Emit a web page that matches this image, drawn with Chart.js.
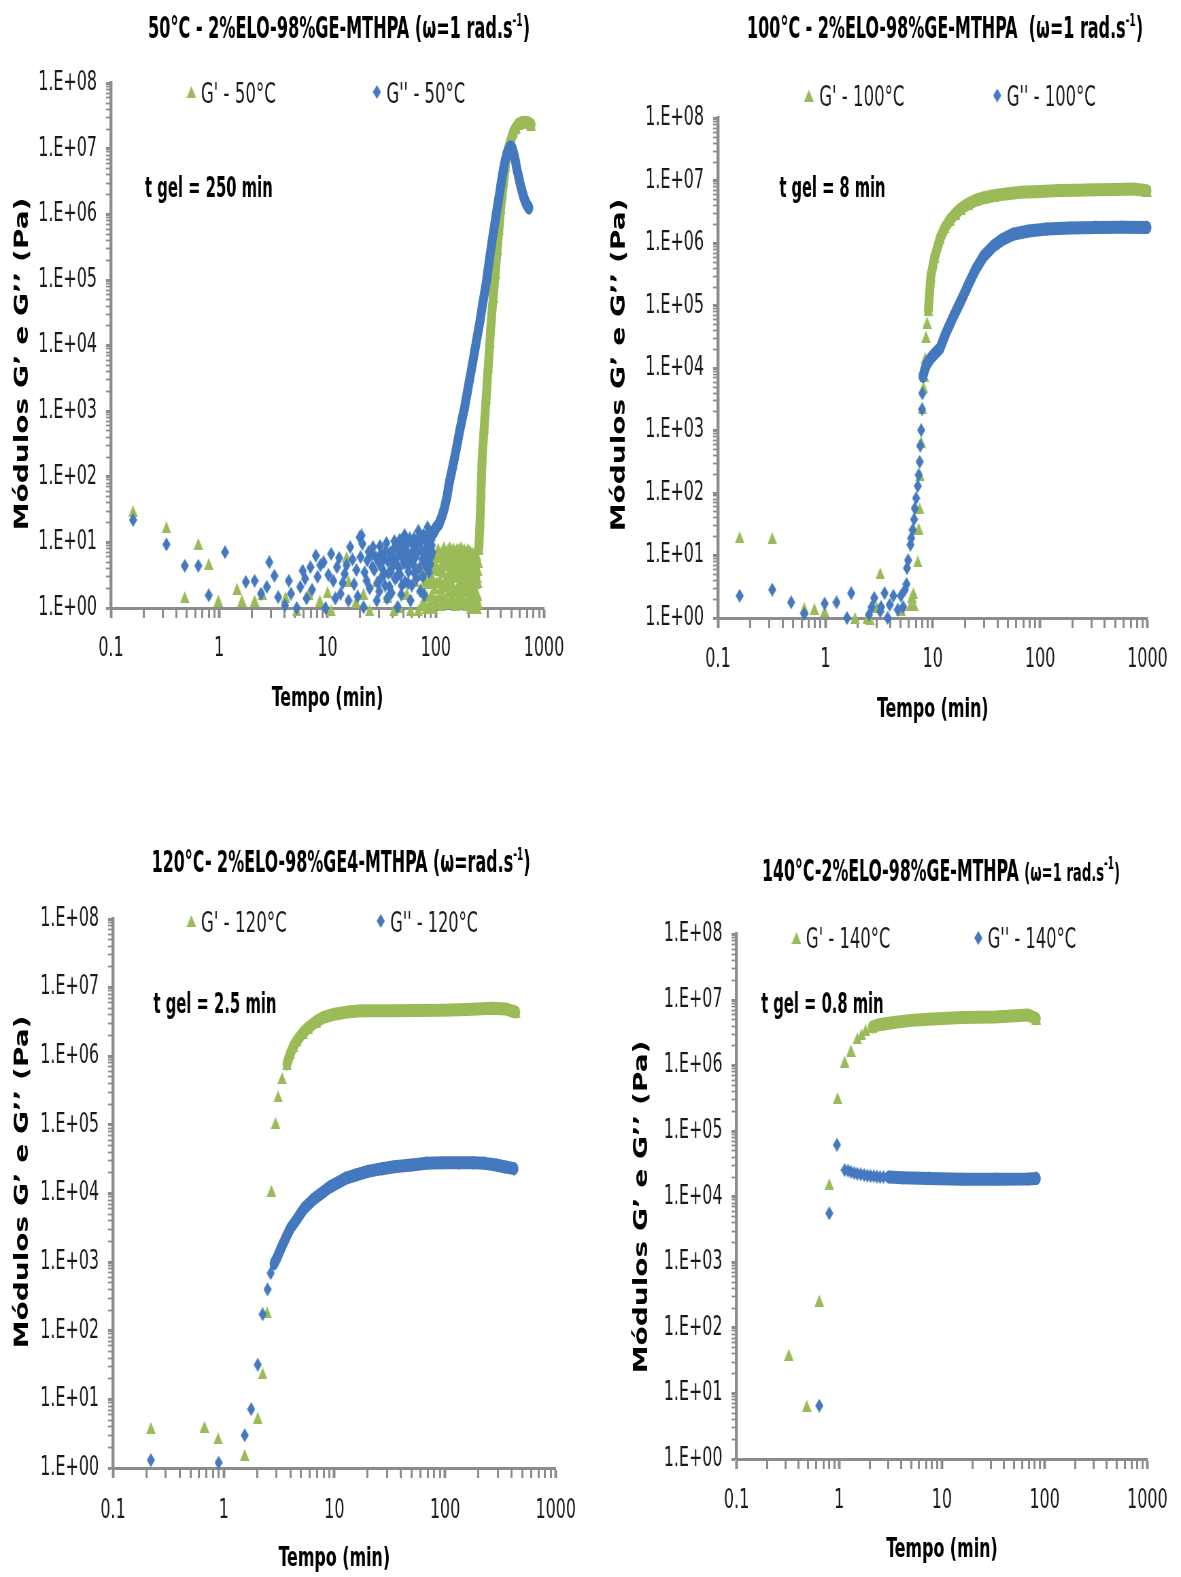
<!DOCTYPE html>
<html>
<head>
<meta charset="utf-8">
<script src="https://cdn.jsdelivr.net/npm/chart.js@4.4.1/dist/chart.umd.min.js"></script>
<style>
html,body{margin:0;padding:0;background:#fff;}
body{width:1181px;height:1577px;position:relative;overflow:hidden;}
canvas{position:absolute;}
</style>
</head>
<body>
<canvas id="c1"></canvas>
<canvas id="c2"></canvas>
<canvas id="c3"></canvas>
<canvas id="c4"></canvas>
<script>
// ---------------- DATA (time in min, modulus in Pa) ----------------
const X_TICK_LABELS = ['0.1', '1', '10', '100', '1000'];
const Y_TICK_LABELS = ['1.E+00', '1.E+01', '1.E+02', '1.E+03', '1.E+04', '1.E+05', '1.E+06', '1.E+07', '1.E+08'];
const X_TITLE = 'Tempo (min)';
const Y_TITLE = 'Módulos G’ e G’’ (Pa)';

const P1_TITLE = ['50°C - 2%ELO-98%GE-MTHPA (ω=1 rad.s', '-1', ')'];
const P2_TITLE = ['100°C - 2%ELO-98%GE-MTHPA  (ω=1 rad.s', '-1', ')'];
const P3_TITLE = ['120°C- 2%ELO-98%GE4-MTHPA (ω=rad.s', '-1', ')'];
const P4_TITLE = ['140°C-2%ELO-98%GE-MTHPA ', '(ω=1 rad.s', '-1', ')'];

const P1_LABELS = ["G' - 50°C", "G'' - 50°C"];
const P2_LABELS = ["G' - 100°C", "G'' - 100°C"];
const P3_LABELS = ["G' - 120°C", "G'' - 120°C"];
const P4_LABELS = ["G' - 140°C", "G'' - 140°C"];

const P1_TGEL = 't gel = 250 min';
const P2_TGEL = 't gel = 8 min';
const P3_TGEL = 't gel = 2.5 min';
const P4_TGEL = 't gel = 0.8 min';

// Panel 1 : 50 °C  -- G'
const P1_G1_EARLY = [
  [0.16,30],[0.325,17],[0.48,1.47],[0.64,9.5],[0.80,4.7],[0.98,1.3],[1.46,1.97],[1.62,1.3],[2.12,1.3],[2.5,1.65],
  [4.1,1.47],[5.2,0.92],[6.7,1.65],[8.5,1.3],[10,1.75],[10.8,0.92],[15,6],[15.6,2.6],[18.3,1.23],[21.5,1.65],
  [24.5,0.92],[28.5,2.6],[36,1.47],[41,0.92],[46,1.04],[54,1.65],[58.5,0.92],[64,2.6],[69,0.92]
];
const P1_G1_NOISE = [
  [72,3.2],[74,1.1],[76,5.5],[78,1.8],[80,4.0],[82,1.0],[84,6.5],[86,2.4],[88,1.2],[90,5.0],[92,3.0],[94,1.0],
  [96,7.0],[98,2.0],[100,4.5],[103,1.2],[106,6.0],[109,2.8],[112,1.1],[115,7.5],[118,3.5],[121,1.4],[124,5.5],
  [127,2.2],[130,8.0],[133,1.2],[136,4.0],[139,6.8],[142,1.6],[145,8.2],[148,3.0],[151,1.1],[154,7.0],[157,4.5],
  [160,1.4],[163,8.0],[166,2.5],[169,5.5],[172,1.2],[175,7.5],[178,3.5],[181,1.3],[184,6.0],[187,2.0],[190,4.8],
  [193,1.1],[196,7.2],[199,3.0],[202,1.5],[205,5.5],[208,2.2],[211,1.0],[214,6.5],[217,3.2],[220,1.3],[223,4.5],
  [226,1.8],[229,5.8],[232,1.2],[235,3.5],[238,6.5],[241,1.0],[244,2.5],[247,5.0],
  [73,2.0],[75,4.2],[77,1.3],[79,6.0],[81,2.6],[83,1.5],[85,4.5],[87,7.0],[89,2.8],[91,1.6],[93,5.8],[95,2.6],
  [97,4.0],[99,1.4],[101,6.5],[102,2.5],[104,4.0],[105,8.0],[107,1.5],[108,3.8],[110,6.8],[111,2.0],[113,4.6],
  [114,1.5],[116,5.0],[117,2.2],[119,8.5],[120,1.2],[122,4.6],[123,2.8],[125,7.2],[126,1.3],[128,5.0],[129,3.0],
  [131,1.8],[132,5.8],[134,3.0],[135,8.5],[137,1.4],[138,3.0],[140,4.8],[141,2.4],[143,6.0],[144,1.2],[146,4.0],
  [147,2.0],[149,7.0],[150,3.5],[152,5.5],[153,1.8],[155,3.2],[156,8.0],[158,2.0],[159,6.0],[161,3.0],[162,5.0],
  [164,1.2],[165,4.0],[167,7.0],[168,1.8],[170,3.8],[171,8.5],[173,2.6],[174,5.0],[176,1.5],[177,4.0],[179,6.5],
  [180,2.0],[182,4.5],[183,8.0],[185,3.2],[186,1.2],[188,6.8],[189,2.6],[191,1.8],[192,5.2],[194,3.6],[195,2.0],
  [197,4.6],[198,8.0],[200,1.3],[201,4.0],[203,6.5],[204,2.4],[206,1.5],[207,7.5],[209,3.8],[210,5.8],[212,2.0],
  [213,4.0],[215,1.5],[216,7.0],[218,2.6],[219,5.0],[221,1.8],[222,6.8],[224,3.0],[225,1.2],[227,4.0],[228,2.0],
  [230,7.0],[231,3.2],[233,1.6],[234,5.0],[236,2.4],[237,4.2],[239,1.4],[240,3.0],[242,5.5],[243,1.6],[245,3.8],
  [246,1.2]
];
const P1_G1_RISE = [
  [250,8],[256,20],[262,60],[268,190],[280,560],[292,1600],[305,4700],[316,11500],[328,29000],[340,56000],
  [355,130000],[370,300000],[384,600000],[398,1.26e6],[412,2.1e6],[425,3.2e6],[440,5.4e6],[453,8.3e6],
  [480,1.17e7],[520,1.78e7],[550,2.1e7],[580,2.4e7],[620,2.5e7],[670,2.55e7],[720,2.5e7],[760,2.35e7]
];
// Panel 1 : 50 °C  -- G''
const P1_G2_NOISE = [
  [0.16,22],[0.325,9.3],[0.48,4.4],[0.64,4.4],[0.80,1.56],[1.13,7.1],[1.76,2.5],[2.12,2.6],[2.43,1.65],[2.75,2.1],
  [2.9,5.0],[3.23,3.1],[3.5,1.47],[4.05,1.1],[4.39,2.6],[4.6,1.65],[5.2,1.0],[5.6,2.1],[5.9,3.7],[6.2,2.8],
  [6.4,1.4],[6.95,4.2],[7.2,1.9],[7.8,6.3],[8.1,3.0],[8.6,4.5],[9.2,5.0],[9.6,1.0],[10.2,3.2],[10.8,6.7],
  [11.3,2.6],[11.8,1.4],[12.2,4.2],[12.8,5.8],[13.2,1.65],[13.8,2.4],[14.4,3.3],[15,4.5],[15.6,1.3],[16.2,8.5],
  [17,5.5],[17.6,2.3],[18.5,3.8],[19,1.5],[19.8,12],[20.6,12.8],[21.5,1.03],[22,3.5],[23.3,5.3],[24.5,2.0],
  [25.5,6.5],[26.3,8.5],[27,3.8],[28.5,1.3],[29.5,5.0],[30,1.8],[31,6.7],[32,4.0],[33.5,3.3],[34.5,7.5],
  [35.5,1.4],[36,5.2],[37.4,2.1],[38.5,3.6],[39.5,6.0],[40.9,8],[42,2.8],[43,4.8],[44.3,1.03],[45.5,7.0],
  [47,3.2],[48,1.6],[49,5.8],[50,10.7],[52,2.5],[53,7.5],[54,4.7],[56,3.6],[57,6.2],[58.5,1.3],[60,2.2],
  [61,9.5],[62,4.6],[64,8.5],[66,2.8],[67,6.8],[69,15],[70,4.0],[72,1.8],[73,10.5],[75,5.5],[76,3.0],
  [78,1.56],[80,7.8],[82,4.2],[84,17],[86,3.5],[88,12],[90,6.0],[92,9.0],
  [20.2,6.0],[21,9.5],[23,2.6],[24,7.2],[26,4.2],[27.8,6.0],[29,2.4],[30.5,8.8],[31.5,2.9],[33,5.6],[34,2.2],
  [35,9.8],[36.5,3.4],[37.9,7.0],[39,1.7],[40,4.4],[41.5,10.5],[42.5,5.4],[43.8,3.0],[44.8,9.0],[46,4.0],
  [46.5,11],[47.5,6.5],[48.5,2.2],[49.5,8.2],[51,4.8],[51.5,13],[52.5,5.8],[55,9.5],[55.5,2.4],[57.5,11.5],
  [59,5.0],[60.5,7.2],[63,11.5],[63.5,3.4],[65,6.0],[68,9.0],[71,12.5],[74,7.5],[77,13],[79,5.0],[81,10],
  [83,6.5],[85,14],[87,8],[89,4.6],[91,11],[93,7],[94,15]
];
const P1_G2_RISE = [
  [95,14],[100,16.5],[107,19],[114,25],[120,33],[127,50],[133,80],[141,125],[149,194],[157,300],[165,465],
  [174,720],[184,1100],[194,1800],[205,3000],[217,5000],[229,8300],[242,14000],[255,22500],[265,34000],
  [274,48000],[285,70000],[295,100000],[305,150000],[316,230000],[328,350000],[340,520000],[352,750000],
  [365,1.1e6],[378,1.6e6],[392,2.3e6],[405,3.3e6],[420,4.7e6],[436,6.5e6],[453,8.2e6],[470,9.6e6],
  [487,1.07e7],[505,1.05e7],[522,8.8e6],[542,6.8e6],[560,5.0e6],[580,3.9e6],[600,3.0e6],[625,2.3e6],
  [645,1.9e6],[670,1.6e6],[695,1.4e6],[725,1.26e6]
];

// Panel 2 : 100 °C
const P2_G1 = [
  [0.159,19.7],[0.32,19],[0.635,1.45],[0.79,1.4],[0.985,1.28],[1.89,1.0],[2.45,1.0],[2.6,0.96],[3.0,1.5],
  [3.24,5.2],[5.05,1.36],[6.2,1.6],[6.4,2.2],[6.6,2.5],[6.7,1.6],[7.25,8.05],[7.4,27],[7.55,57],[7.6,195],
  [7.8,665],[8.0,2270],[8.2,5000],[8.4,7400],[8.5,14500],[8.65,32000],[8.85,54000],
  [9.1,86000],[9.6,300000],[10.4,600000],[11.7,1.2e6],[13,1.8e6],[14.5,2.4e6],[16.3,3.0e6],[18.3,3.6e6],
  [21.5,4.3e6],[25,4.9e6],[30,5.4e6],[37,5.8e6],[48,6.2e6],[66,6.6e6],[100,6.8e6],[148,7.0e6],[220,7.1e6],
  [332,7.2e6],[500,7.3e6],[740,7.4e6],[990,7.0e6]
];
const P2_G2 = [
  [0.159,2.27],[0.32,2.84],[0.48,1.78],[0.635,1.16],[0.985,1.7],[1.27,1.78],[1.59,1.0],[1.74,2.5],[2.55,1.13],
  [2.7,1.5],[2.85,2.1],[3.24,1.28],[3.3,1.5],[3.56,2.5],[3.8,1.0],[3.97,1.63],[4.3,2.27],[4.72,1.36],[5.05,2.27],
  [5.3,1.5],[5.5,2.84],[5.7,3.5],[5.75,6.3],[5.9,8.4],[6.2,14.9],[6.3,19],[6.5,25.8],[6.7,38],[6.8,57],[7.0,83],
  [7.25,130],[7.4,195],[7.55,318],[7.65,575],[7.8,1020],[7.95,2200],[8.0,3950],
  [8.1,7400],[8.5,10000],[8.9,12000],[9.6,14500],[10.4,17000],[11.7,21000],
  [13.2,36000],[15.6,68000],[18.3,120000],[21.5,220000],[25,380000],[29.7,620000],[36.5,900000],[44.3,1.15e6],
  [56,1.4e6],[78,1.58e6],[116,1.7e6],[188,1.76e6],[330,1.8e6],[580,1.82e6],[990,1.8e6]
];

// Panel 3 : 120 °C
const P3_G1 = [
  [0.22,3.85],[0.67,4.0],[0.89,2.7],[1.55,1.55],[2.03,5.4],[2.25,24],[2.47,185],[2.7,11000],[2.94,107000],
  [3.1,260000],[3.37,480000],
  [3.73,770000],[4.0,1.1e6],[4.27,1.4e6],[4.6,1.7e6],[5.2,2.2e6],[5.8,2.6e6],[6.85,3.2e6],[8,3.7e6],[10,4.1e6],
  [13,4.4e6],[17.7,4.6e6],[25,4.6e6],[34.6,4.6e6],[55,4.65e6],[95,4.7e6],[160,4.8e6],[262,5.0e6],[350,4.9e6],
  [436,4.4e6]
];
const P3_G2 = [
  [0.22,1.3],[0.9,1.2],[1.55,3.0],[1.77,7.2],[2.03,32],[2.25,174],[2.49,400],[2.66,690],
  [2.85,950],[3.05,1180],[3.3,1600],[3.73,2450],[4.0,3100],[4.57,4200],[5.3,6000],[6.4,8100],[7.6,10000],
  [9.0,12300],[12.6,16600],[15.5,18500],[20.1,21000],[27,23000],[34.6,24500],[50,26000],[68,27500],
  [95,28000],[133,28000],[180,28000],[229,27500],[290,26000],[344,24500],[420,23000]
];

// Panel 4 : 140 °C
const P4_G1 = [
  [0.323,39],[0.483,6.5],[0.64,260],[0.8,15600],[0.963,320000],[1.13,1.15e6],[1.3,1.7e6],[1.5,2.6e6],
  [1.65,3.0e6],[1.81,3.5e6],
  [2.1,3.9e6],[2.44,4.2e6],[3.53,4.6e6],[5,4.9e6],[7.4,5.1e6],[15.6,5.4e6],[32.8,5.5e6],[69,5.9e6],[83,5.2e6]
];
const P4_G2 = [
  [0.64,6.5],[0.8,5600],[0.95,62000],[1.13,25500],[1.22,25000],[1.3,24000],[1.4,23000],[1.5,22500],
  [1.62,22000],[1.75,21500],[1.88,21000],[2.02,20800],[2.17,20500],[2.33,20300],[2.5,20000],[2.7,20000],
  [3.05,20000],[4.1,19500],[7.4,19000],[15.6,18500],[32.8,18500],[69,18700],[83,19000]
];

const byTime = (a, b) => a[0] - b[0];
const P1_G1 = [...P1_G1_EARLY, ...P1_G1_NOISE, ...P1_G1_RISE].sort(byTime);
const P1_G2 = [...P1_G2_NOISE, ...P1_G2_RISE].sort(byTime);

// ---------------- STYLE / LAYOUT ----------------
const FONT = "'Liberation Sans Narrow','DejaVu Sans Condensed','Arial Narrow',sans-serif";
const YFONT = "'DejaVu Sans','Verdana',sans-serif";
const S = 0.68;                 // horizontal compression of the original figure
const GREEN = '#9BBB59';
const BLUE = '#4479BF';
const AXIS = '#8C8C8C';
const TXT = '#1a1a1a';

const LAYOUT = {
  c1: {left:0, top:0, cw:590, ch:780, area:{l:111, r:544, t:83.3, b:608}, xLabelY:649.5, xTitleY:699,
       yTitle:{x:23, y:364},
       title:{cx:339, base:37.5, w:382}, tgel:{x:145, base:196.5, w:127.7},
       leg:[{mx:191.3, my:92, tx:200.8, base:102.7, w:75}, {mx:376.9, my:92, tx:386.4, base:102.7, w:78.8}],
       band:[248, 94.5]},
  c2: {left:590, top:0, cw:591, ch:780, area:{l:718, r:1150, t:118.5, b:618}, xLabelY:660.5, xTitleY:710,
       yTitle:{x:620, y:365},
       title:{cx:945, base:38.3, w:396}, tgel:{x:779.4, base:196.5, w:106},
       leg:[{mx:808.9, my:95.5, tx:819.2, base:106, w:85.2}, {mx:997.2, my:95.5, tx:1006.7, base:106, w:89}],
       band:[9.0, 8.05]},
  c3: {left:0, top:780, cw:590, ch:797, area:{l:113, r:566, t:919, b:1468}, xLabelY:1511.7, xTitleY:1559,
       yTitle:{x:23, y:1182},
       title:{cx:341, base:871.5, w:379}, tgel:{x:153.4, base:1013, w:123},
       leg:[{mx:191.3, my:921, tx:200.8, base:931.7, w:86}, {mx:380.7, my:921, tx:390.2, base:931.7, w:87.8}],
       band:[3.6, 2.8]},
  c4: {left:590, top:780, cw:591, ch:797, area:{l:736.5, r:1151, t:934.5, b:1459}, xLabelY:1501.7, xTitleY:1550,
       yTitle:{x:642, y:1207},
       title:{cx:941, base:881, w:358}, tgel:{x:761.2, base:1012.5, w:122.4},
       leg:[{mx:796.4, my:938, tx:805.9, base:948.3, w:84.5}, {mx:978.3, my:938, tx:987.7, base:948.3, w:88.3}],
       band:[2.0, 3.0]}
};

function marker(kind, color) {
  const c = document.createElement('canvas');
  const w = kind === 'tri' ? 14 : 12, h = kind === 'tri' ? 12 : 14;
  c.width = w; c.height = h;
  const g = c.getContext('2d');
  g.fillStyle = color;
  g.beginPath();
  if (kind === 'tri') { g.moveTo(w / 2, 0); g.lineTo(w, h); g.lineTo(0, h); }
  else { g.moveTo(w / 2, 0); g.lineTo(w, h / 2); g.lineTo(w / 2, h); g.lineTo(0, h / 2); }
  g.closePath(); g.fill();
  return c;
}
const TRI = marker('tri', GREEN);
const DIA = marker('dia', BLUE);

function isDecade(v) {
  if (!(v > 0)) return false;
  const l = Math.log10(v);
  return Math.abs(l - Math.round(l)) < 1e-9;
}
function logTicks(min, max) {
  const out = [];
  const e0 = Math.round(Math.log10(min)), e1 = Math.round(Math.log10(max));
  for (let e = e0; e < e1; e++) {
    for (let m = 1; m < 10; m++) out.push({value: m * Math.pow(10, e), major: m === 1});
  }
  out.push({value: max, major: true});
  return out;
}

function drawRuns(ctx, runs, x, base, targetW, align) {
  let total = 0;
  const ws = runs.map(r => {
    ctx.font = `${r.weight} ${r.size}px ${FONT}`;
    const w = ctx.measureText(r.t).width; total += w; return w;
  });
  const k = targetW / total;
  ctx.save();
  ctx.textAlign = 'left';
  ctx.textBaseline = 'alphabetic';
  ctx.translate(align === 'center' ? x - targetW / 2 : x, base);
  ctx.scale(k, 1);
  let cx = 0;
  runs.forEach((r, i) => {
    ctx.font = `${r.weight} ${r.size}px ${FONT}`;
    ctx.fillText(r.t, cx, r.rise || 0);
    cx += ws[i];
  });
  ctx.restore();
}

function titleRuns(parts, small) {
  return parts.map((t, i) => {
    if (t === '-1') return {t, size: 17, weight: 'bold', rise: -12};
    const sz = (small && i > 0) ? 25 : 30;
    return {t, size: sz, weight: 'bold'};
  });
}

const panelText = {
  id: 'panelText',
  afterDraw(chart, args, o) {
    const ctx = chart.ctx;
    const L = o.L, sx = o.sx;
    const X = px => (px - L.left) / sx;
    const Y = py => py - L.top;
    ctx.save();
    ctx.fillStyle = '#000';
    // chart title
    drawRuns(ctx, o.title, X(L.title.cx), Y(L.title.base), L.title.w / sx, 'center');
    // y-axis title (rotated)
    ctx.save();
    ctx.translate(X(L.yTitle.x), Y(L.yTitle.y));
    ctx.rotate(-Math.PI / 2);
    ctx.font = `bold 28px ${YFONT}`;
    ctx.textAlign = 'center';
    ctx.textBaseline = 'middle';
    ctx.fillText(Y_TITLE, 0, 0);
    ctx.restore();
    // gel time annotation
    drawRuns(ctx, [{t: o.tgel, size: 28, weight: 'bold'}], X(L.tgel.x), Y(L.tgel.base), L.tgel.w / sx, 'left');
    // legend
    const marks = [TRI, DIA];
    L.leg.forEach((it, i) => {
      const img = marks[i];
      ctx.drawImage(img, X(it.mx) - img.width / 2, Y(it.my) - img.height / 2);
      ctx.fillStyle = TXT;
      drawRuns(ctx, [{t: chart.data.datasets[i].label, size: 28, weight: 'normal'}], X(it.tx), Y(it.base), it.w / sx, 'left');
    });
    ctx.restore();
  }
};

function makePanel(id, g1, g2, labels, title, tgel, smallTitle) {
  const L = LAYOUT[id];
  const cv = document.getElementById(id);
  const iw = Math.round(L.cw / S);
  const sx = L.cw / iw;
  cv.width = iw; cv.height = L.ch;
  cv.style.left = L.left + 'px'; cv.style.top = L.top + 'px';
  cv.style.width = L.cw + 'px'; cv.style.height = L.ch + 'px';

  const yW = (L.area.l - L.left) / sx;
  const padR = iw - (L.area.r - L.left) / sx;
  const padT = L.area.t - L.top;
  const xH = L.ch - (L.area.b - L.top);
  const xTickLen = 10, yTickLen = 5 / sx;
  const xTickPad = (L.xLabelY - L.area.b) - xTickLen - 13;
  const xTitlePad = Math.max(0, L.ch - (L.xTitleY - L.top) - 13);
  const yTickPad = 14 / sx - yTickLen;

  const ds = (pts, lab, color, img, band, order) => ({
    label: lab,
    data: pts.map(p => ({x: p[0], y: p[1]})),
    showLine: true,
    borderColor: color,
    backgroundColor: color,
    borderWidth: 13,
    borderJoinStyle: 'round',
    borderCapStyle: 'round',
    segment: { borderColor: c => (pts[c.p0DataIndex][0] >= band ? color : 'rgba(0,0,0,0)') },
    pointStyle: img,
    pointRadius: 6,
    pointHoverRadius: 6,
    pointBorderWidth: 0,
    pointBackgroundColor: color,
    clip: false,
    order: order
  });

  new Chart(cv, {
    type: 'scatter',
    data: {
      datasets: [
        ds(g1, labels[0], GREEN, TRI, L.band[0], 2),
        ds(g2, labels[1], BLUE, DIA, L.band[1], 1)
      ]
    },
    options: {
      responsive: false,
      devicePixelRatio: 1,
      animation: false,
      events: [],
      layout: { padding: { left: 0, top: padT, right: padR, bottom: 0 } },
      plugins: {
        legend: { display: false },
        tooltip: { enabled: false },
        title: { display: false },
        panelText: { L, sx, title: titleRuns(title, smallTitle), tgel }
      },
      scales: {
        x: {
          type: 'logarithmic', position: 'bottom', min: 0.1, max: 1000,
          afterBuildTicks: s => { s.ticks = logTicks(0.1, 1000); },
          afterFit: s => { s.height = xH; },
          ticks: {
            autoSkip: false, maxRotation: 0, minRotation: 0, padding: xTickPad, color: TXT,
            font: { family: FONT, size: 26, lineHeight: 1 },
            callback: v => isDecade(v) ? X_TICK_LABELS[Math.round(Math.log10(v)) + 1] : ''
          },
          grid: {
            display: true, drawOnChartArea: false, drawTicks: true, tickLength: xTickLen,
            tickColor: AXIS, tickWidth: c => (c.tick && isDecade(c.tick.value)) ? 4 : 3
          },
          border: { display: true, color: AXIS, width: 3 },
          title: {
            display: true, text: X_TITLE, color: '#000',
            font: { family: FONT, size: 26, weight: 'bold', lineHeight: 1 },
            padding: { top: 0, bottom: xTitlePad }
          }
        },
        y: {
          type: 'logarithmic', position: 'left', min: 1, max: 1e8,
          afterBuildTicks: s => { s.ticks = logTicks(1, 1e8); },
          afterFit: s => { s.width = yW; },
          ticks: {
            autoSkip: false, padding: yTickPad, color: TXT,
            font: { family: FONT, size: 26, lineHeight: 1.2 },
            callback: v => isDecade(v) ? Y_TICK_LABELS[Math.round(Math.log10(v))] : ''
          },
          grid: {
            display: true, drawOnChartArea: false, drawTicks: true, tickLength: yTickLen,
            tickColor: AXIS, tickWidth: c => (c.tick && isDecade(c.tick.value)) ? 3 : 1.8
          },
          border: { display: true, color: AXIS, width: 4.4 },
          title: { display: false }
        }
      }
    },
    plugins: [panelText]
  });
}

makePanel('c1', P1_G1, P1_G2, P1_LABELS, P1_TITLE, P1_TGEL, false);
makePanel('c2', P2_G1, P2_G2, P2_LABELS, P2_TITLE, P2_TGEL, false);
makePanel('c3', P3_G1, P3_G2, P3_LABELS, P3_TITLE, P3_TGEL, false);
makePanel('c4', P4_G1, P4_G2, P4_LABELS, P4_TITLE, P4_TGEL, true);
</script>
</body>
</html>
